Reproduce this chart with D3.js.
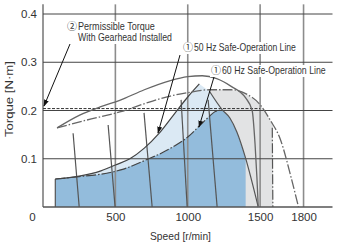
<!DOCTYPE html>
<html><head><meta charset="utf-8">
<script src="https://cdn.jsdelivr.net/npm/d3@7"></script>
<style>
body{margin:0;background:#fff}
svg text{font-family:"Liberation Sans",Arial,sans-serif;fill:#333}
</style></head><body>
<svg id="c" width="339" height="247"></svg>
<script>
// ---- data ----
const xTickValues = [0, 500, 1000, 1500, 1800];
const yTickValues = [0.1, 0.2, 0.3, 0.4];

// motor speed-torque curve, 50 Hz (solid)
const motor50Speed  = [97, 250, 400, 530, 700, 880, 1000, 1100, 1200, 1300, 1400, 1445, 1465, 1478, 1487];
const motor50Torque = [0.164, 0.19, 0.208, 0.221, 0.243, 0.262, 0.27, 0.272, 0.266, 0.25, 0.226, 0.2, 0.13, 0.06, 0];
// motor speed-torque curve, 60 Hz (dash-dot)
const motor60Speed  = [97, 300, 530, 740, 880, 1000, 1150, 1300, 1400, 1500, 1570, 1640, 1715, 1765];
const motor60Torque = [0.164, 0.18, 0.197, 0.218, 0.23, 0.237, 0.243, 0.243, 0.235, 0.212, 0.18, 0.14, 0.06, 0];
// safe-operation lines
const safe50Speed  = [85, 250, 400, 500, 600, 700, 800, 900, 1000, 1080];
const safe50Torque = [0.058, 0.064, 0.075, 0.087, 0.1, 0.122, 0.152, 0.19, 0.228, 0.255];
const safe60Speed  = [85, 250, 400, 550, 730, 820, 900, 1000, 1080, 1150, 1190, 1240];
const safe60Torque = [0.058, 0.063, 0.068, 0.078, 0.1, 0.112, 0.125, 0.145, 0.168, 0.188, 0.198, 0.201];
// edge of continuous region at high speed (50 Hz)
const edgeSpeed  = [1150, 1240, 1290, 1340, 1397, 1487];
const edgeTorque = [0.24, 0.201, 0.185, 0.155, 0.104, 0];
const blueMaxSpeed = 1400;
const grayMaxSpeed = 1588;
const grayMinSpeed = 1120;
// speed-setting lines: top speed, top torque, bottom speed
const settingTopSpeed    = [208, 450, 698, 954, 1141, 1584];
const settingTopTorque   = [0.153, 0.17, 0.195, 0.222, 0.222, 0.164];
const settingBottomSpeed = [250, 498, 754, 996, 1203, 1588];
const settingDashed      = [false, false, false, false, false, true];
// permissible torque with gearhead
const permissibleTorque = 0.204;
const permissibleMaxSpeed = 1500;

// ---- chart ----
const svg = d3.select("#c");
const x = d3.scaleLinear().domain([0, 2000]).range([43, 332.5]);
const y = d3.scaleLinear().domain([0, 0.4]).range([207, 14]);
const zip = (a, b) => a.map((v, i) => [v, b[i]]);
const line = d3.line().x(d => x(d[0])).y(d => y(d[1])).curve(d3.curveMonotoneX);
const lineLin = d3.line().x(d => x(d[0])).y(d => y(d[1]));
const DASHDOT = "10,2,1.5,2";

// fills
const m60 = zip(motor60Speed, motor60Torque);
const interp = (pts, s) => { for (let i=1;i<pts.length;i++){ if (s<=pts[i][0]){const t=(s-pts[i-1][0])/(pts[i][0]-pts[i-1][0]);return pts[i-1][1]+t*(pts[i][1]-pts[i-1][1]);} } return 0; };
const grayTop = [[grayMinSpeed, interp(m60, grayMinSpeed)], ...m60.filter(p => p[0] > grayMinSpeed && p[0] < grayMaxSpeed), [grayMaxSpeed, interp(m60, grayMaxSpeed)]];
const grayPoly = [...grayTop, [grayMaxSpeed, 0], [grayMinSpeed, 0]];
svg.append("path").attr("d", lineLin(grayPoly)).attr("fill", "#e2e3e4");

const s50 = zip(safe50Speed, safe50Torque);
const lbPoly = [[safe50Speed[0], 0], ...s50, [1150, 0.24], [1240, 0.201], [1240, 0]];
svg.append("path").attr("d", lineLin(lbPoly)).attr("fill", "#dbe9f4");

const s60 = zip(safe60Speed, safe60Torque);
const edge = zip(edgeSpeed, edgeTorque).filter(p => p[0] > 1240 && p[0] <= blueMaxSpeed);
const bluePoly = [[safe60Speed[0], 0], ...s60, ...edge, [blueMaxSpeed, 0.1], [blueMaxSpeed, 0]];
svg.append("path").attr("d", lineLin(bluePoly)).attr("fill", "#93bcdc");

// grid
const g = svg.append("g");
g.selectAll(".vg").data(xTickValues.filter(d => d > 0)).join("line")
  .attr("x1", d => x(d)).attr("x2", d => x(d)).attr("y1", y(0.42)).attr("y2", y(0))
  .attr("stroke", "#8c8c8c").attr("stroke-width", 1.6);
g.append("line").attr("x1", x(0)).attr("x2", x(0)).attr("y1", y(0.42)).attr("y2", y(0))
  .attr("stroke", "#8c8c8c").attr("stroke-width", 1.8);
g.selectAll(".hg").data(yTickValues).join("line")
  .attr("x1", x(0)).attr("x2", x(2000)).attr("y1", d => y(d)).attr("y2", d => y(d))
  .attr("stroke", "#444").attr("stroke-width", 1);
g.append("line").attr("x1", x(0)).attr("x2", x(2000)).attr("y1", y(0)).attr("y2", y(0))
  .attr("stroke", "#555").attr("stroke-width", 1.3);

// permissible torque dashed line
svg.append("line").attr("x1", x(0)).attr("x2", x(permissibleMaxSpeed))
  .attr("y1", y(permissibleTorque)).attr("y2", y(permissibleTorque))
  .attr("stroke", "#333").attr("stroke-width", 1).attr("stroke-dasharray", "3,1.5");

// blue left edge
svg.append("path").attr("d", lineLin([[safe50Speed[0],0],[safe50Speed[0],safe50Torque[0]]]))
  .attr("stroke","#555").attr("stroke-width",1.2).attr("fill","none");

// speed-setting lines
settingTopSpeed.forEach((s, i) => {
  svg.append("path").attr("d", lineLin([[s, settingTopTorque[i]], [settingBottomSpeed[i], 0]]))
    .attr("fill", "none").attr("stroke", "#555").attr("stroke-width", 1.2)
    .attr("stroke-dasharray", settingDashed[i] ? DASHDOT : null);
});
// high-speed edge
svg.append("path").attr("d", line(zip(edgeSpeed, edgeTorque))).attr("fill","none")
  .attr("stroke","#555").attr("stroke-width",1.2);

// safe-operation lines
svg.append("path").attr("d", line(s50)).attr("fill","none").attr("stroke","#444").attr("stroke-width",1.2);
svg.append("path").attr("d", line(s60)).attr("fill","none").attr("stroke","#444").attr("stroke-width",1.2).attr("stroke-dasharray", DASHDOT);

// motor curves
svg.append("path").attr("d", line(zip(motor50Speed, motor50Torque))).attr("fill","none")
  .attr("stroke","#666").attr("stroke-width",1.3);
svg.append("path").attr("d", line(m60)).attr("fill","none")
  .attr("stroke","#666").attr("stroke-width",1.3).attr("stroke-dasharray", DASHDOT);

// axes labels
const ya = svg.append("g").attr("transform", `translate(${x(0)},0)`)
  .call(d3.axisLeft(y).tickValues(yTickValues).tickSize(0).tickPadding(6).tickFormat(d3.format(".1f")));
ya.select(".domain").remove();
ya.selectAll("text").attr("font-size", 11.5).style("font-family", '"Liberation Sans",Arial,sans-serif').attr("fill","#333");
const xa = svg.append("g").attr("transform", `translate(0,${y(0)})`)
  .call(d3.axisBottom(x).tickValues(xTickValues).tickSize(0).tickPadding(6).tickFormat(d3.format("d")));
xa.select(".domain").remove();
xa.selectAll("text").attr("font-size", 11.5).style("font-family", '"Liberation Sans",Arial,sans-serif').attr("fill","#333")
  .attr("dx", d => d === 0 ? -11 : 0);

// condensed text: horizontally scaled to a target width
const narrowText = (parent, str, px, py, size, w, rot) => {
  const t = parent.append("text").attr("font-size", size).text(str);
  const nat = t.node().getComputedTextLength();
  const k = w / nat;
  t.attr("transform", `translate(${px},${py})${rot ? " rotate(-90)" : ""} scale(${k},1)`);
  return t;
};
narrowText(svg, "Speed [r/min]", 150, 240, 11, 61, false);
narrowText(svg, "Torque [N·m]", 13, 137, 11, 76, true);

// annotations (white backing boxes hide the grid behind the text)
const defs = svg.append("defs");
defs.append("marker").attr("id", "ah").attr("viewBox", "0 0 10 10").attr("refX", 9).attr("refY", 5)
  .attr("markerWidth", 7).attr("markerHeight", 7).attr("orient", "auto")
  .append("path").attr("d", "M0,1.5L10,5L0,8.5Z").attr("fill", "#111");
const bg = svg.append("g"), fg = svg.append("g");
const annotations = [
  {lines: ["Permissible Torque", "With Gearhead Installed"], widths: [77, 94], num: "②", x: 67, y: 30},
  {lines: ["50 Hz Safe-Operation Line"], widths: [102], num: "①", x: 183, y: 51},
  {lines: ["60 Hz Safe-Operation Line"], widths: [104], num: "①", x: 211, y: 74}
];
annotations.forEach(a => {
  const maxW = d3.max(a.widths);
  bg.append("rect").attr("x", a.x - 1).attr("y", a.y - 9).attr("width", maxW + 14)
    .attr("height", 11 * a.lines.length + 1).attr("fill", "#fff");
  fg.append("text").attr("x", a.x).attr("y", a.y).attr("font-size", 10)
    .style("font-family", '"Noto Sans CJK JP","DejaVu Sans",sans-serif').text(a.num);
  a.lines.forEach((t, i) => narrowText(fg, t, a.x + 11, a.y + 11 * i, 10.5, a.widths[i], false));
});
const arrow = (x1, y1, x2, y2) => fg.append("line").attr("x1", x1).attr("y1", y1).attr("x2", x2).attr("y2", y2)
  .attr("stroke", "#111").attr("stroke-width", 1).attr("marker-end", "url(#ah)");
arrow(70, 44, 44, 106);
arrow(180, 55, 158, 133);
arrow(214, 77, 199, 127);
</script></body></html>
